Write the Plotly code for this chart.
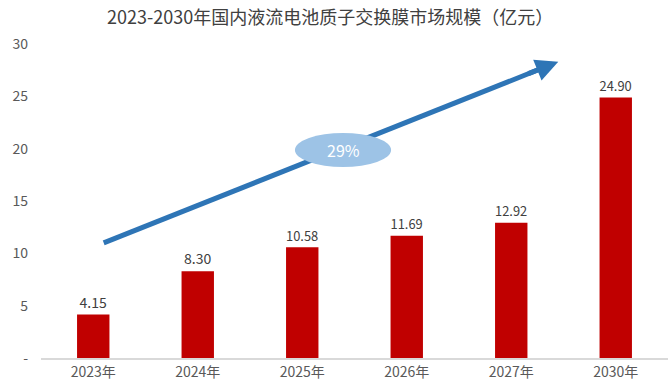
import plotly.graph_objects as go

categories = ["2023年", "2024年", "2025年", "2026年", "2027年", "2030年"]
values = [4.15, 8.30, 10.58, 11.69, 12.92, 24.90]
tick_vals = [0, 5, 10, 15, 20, 25, 30]
tick_text = ["-", "5", "10", "15", "20", "25", "30"]
cagr_text = "29%"

font_cjk = "Noto Sans CJK SC, Noto Sans, sans-serif"

fig = go.Figure()
fig.add_trace(go.Bar(
    x=categories, y=values,
    marker=dict(color="#C00000", line=dict(width=0)),
    width=0.31,
    text=[f"{v:.2f}" for v in values],
    textposition="outside",
    textfont=dict(size=14, color="#404040", family=font_cjk),
    cliponaxis=False,
))

# arrow shaft (below the ellipse)
x_start, y_start = 0.1, 11.0
x_end, y_end = 4.45, 28.3
slope = (y_end - y_start) / (x_end - x_start)
fig.add_shape(
    type="line", xref="x", yref="y",
    x0=x_start, y0=y_start, x1=x_end - 0.15, y1=y_end - 0.15 * slope,
    line=dict(color="#2E75B6", width=5),
)
# ellipse
fig.add_shape(
    type="circle", xref="x", yref="y",
    x0=1.93, x1=2.85, y0=18.25, y1=21.5,
    fillcolor="#9DC3E6", line=dict(width=0),
)
# arrow head
fig.add_annotation(
    x=x_end, y=y_end, ax=x_end - 0.3, ay=y_end - 0.3 * slope,
    xref="x", yref="y", axref="x", ayref="y",
    showarrow=True, arrowhead=2, arrowsize=0.9, arrowwidth=5,
    arrowcolor="#2E75B6", text="",
)
fig.add_annotation(
    x=2.39, y=19.9, xref="x", yref="y", text=cagr_text, showarrow=False,
    font=dict(size=16, color="white", family=font_cjk),
)

fig.update_layout(
    width=671, height=387,
    margin=dict(l=41, r=3, t=44, b=29, autoexpand=False),
    paper_bgcolor="white", plot_bgcolor="white",
    showlegend=False,
    title=dict(
        text="2023-2030年国内液流电池质子交换膜市场规模（亿元）",
        x=0.492, xanchor="center", y=0.953, yanchor="middle",
        font=dict(size=18, color="#404040", family=font_cjk),
        automargin=False,
    ),
    xaxis=dict(
        showgrid=False, showline=True, linecolor="#D9D9D9", linewidth=1.5,
        ticks="", tickfont=dict(size=14, color="#595959", family=font_cjk),
        automargin=False,
    ),
    yaxis=dict(
        range=[0, 30], tickvals=tick_vals, ticktext=tick_text,
        showgrid=False, zeroline=False, showline=False, ticks="",
        tickfont=dict(size=14, color="#595959", family=font_cjk),
        ticklabelstandoff=12, automargin=False,
    ),
)

fig.write_html(
    "out.html",
    config={"displayModeBar": False},
    post_script="document.body.style.margin='0';document.body.style.padding='0';",
)
